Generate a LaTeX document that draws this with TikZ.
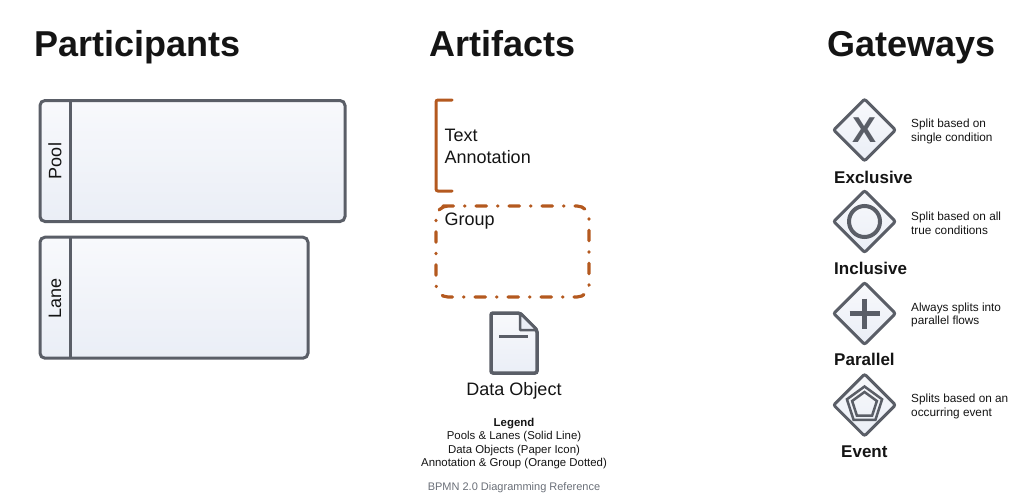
\documentclass[tikz,border=0pt]{standalone}
\usepackage{fontspec}
\setmainfont{Liberation Sans}
\usetikzlibrary{shapes.geometric}

\definecolor{slate}{HTML}{5A5E67}
\definecolor{paleblue}{HTML}{EAEEF6}
\definecolor{paletop}{HTML}{F8F9FC}
\definecolor{rust}{HTML}{B4591F}
\definecolor{ink}{HTML}{141414}
\definecolor{footgray}{HTML}{6A6F78}

\tikzset{
	headtext/.style={anchor=base west,inner sep=0,text=ink,font=\fontsize{36}{40}\selectfont\bfseries},
	swim/.style={draw=slate,line width=3pt,rounded corners=5pt,inner sep=0,anchor=north west,top color=paletop,bottom color=paleblue},
	gate/.style={diamond,aspect=1,draw=slate,line width=3pt,rounded corners=2pt,inner sep=0,minimum size=63pt,top color=paletop,bottom color=paleblue},
	gatename/.style={anchor=base west,inner sep=0,text=ink,font=\fontsize{17}{20}\selectfont\bfseries},
	gatenote/.style={anchor=west,inner sep=0,align=left,text=ink,font=\fontsize{11.8}{13.6}\selectfont},
	bigtext/.style={inner sep=0,text=ink,font=\fontsize{18}{22.5}\selectfont},
	smalltext/.style={inner sep=0,text=ink,align=center,font=\fontsize{11.4}{13.6}\selectfont},
	glyph/.style={draw=slate,line cap=butt},
	pentagon/.style={regular polygon,regular polygon sides=5,draw=slate,line width=2.5pt,inner sep=0},
}

\begin{document}
\begin{tikzpicture}[x=1pt,y=-1pt]
\useasboundingbox (0,0) rectangle (1024,498);
% titles
\node[headtext](participants) at (34,56.5){Participants};
\node[headtext](artifacts) at (429.5,56.5){Artifacts};
\node[headtext](gateways) at (827,56.5){Gateways};
% participants
\node[swim,minimum width=305pt,minimum height=121pt](pool) at (38.5,99){};
\draw[slate,line width=3pt] (70.7,100.5)--(70.7,221.5);
\node[bigtext,rotate=90](poollabel) at (55,161){Pool};
\node[swim,minimum width=268pt,minimum height=121pt](lane) at (38.5,235.7){};
\draw[slate,line width=3pt] (70.7,237.2)--(70.7,358.2);
\node[bigtext,rotate=90](lanelabel) at (55,298){Lane};
% artifacts
\draw[rust,line width=3pt,rounded corners=2pt,line cap=round] (452,100)--(436,100)--(436,191)--(452,191);
\node[bigtext,anchor=west,align=left](annotation) at (444.5,146.5){Text\\Annotation};
\draw[rust,line width=3.2pt,rounded corners=12pt,line cap=round,dash pattern=on 10.5pt off 11pt on 0.5pt off 11pt] (443,206)--(589,206)--(589,297)--(436,297)--(436,206)--(443,206);
\node[bigtext,anchor=west](group) at (444.5,221.5){Group};
\draw[slate,line width=3.5pt,rounded corners=2pt,top color=paletop,bottom color=paleblue] (520,313)--(491,313)--(491,373)--(537,373)--(537,330)--cycle;
\draw[slate,line width=2.5pt,fill=paleblue,line join=round] (520,313)--(520,330)--(537,330)--cycle;
\draw[slate,line width=2.5pt] (499,336.5)--(528,336.5);
\node[bigtext](dataobject) at (514,390.5){Data Object};
\node[smalltext](legend) at (514,443.5){\textbf{Legend}\\Pools \& Lanes (Solid Line)\\Data Objects (Paper Icon)\\Annotation \& Group (Orange Dotted)};
\node[smalltext,text=footgray,font=\fontsize{11}{13}\selectfont](footer) at (514,488){BPMN 2.0 Diagramming Reference};
% gateways
\foreach \gname/\gy/\gnote/\gtitle/\gx/\gty in {
	exclusive/130/{Split based on\\single condition}/Exclusive/834/183,
	inclusive/221.5/{Split based on all\\true conditions}/Inclusive/834/274,
	parallel/313.5/{Always splits into\\parallel flows}/Parallel/834/365,
	event/405/{Splits based on an\\occurring event}/Event/841/457}{
	\node[gate](\gname) at (864.5,\gy){};
	\node[gatename](\gname title) at (\gx,\gty){\gtitle};
	\node[gatenote](\gname note) at (911,\gy+1.5){\gnote};
}
\node[inner sep=0,text=slate,font=\fontsize{36}{36}\selectfont\bfseries](exclusivemark) at (exclusive){X};
\node[circle,draw=slate,line width=4pt,minimum size=31pt,inner sep=0](inclusivemark) at (inclusive){};
\draw[glyph,line width=4.5pt] (849.5,313.5)--(879.5,313.5) (864.5,298.5)--(864.5,328.5);
\node[pentagon,minimum size=37pt](eventouter) at (864.5,405){};
\node[pentagon,minimum size=26pt](eventinner) at (864.5,405){};
\end{tikzpicture}
\end{document}
